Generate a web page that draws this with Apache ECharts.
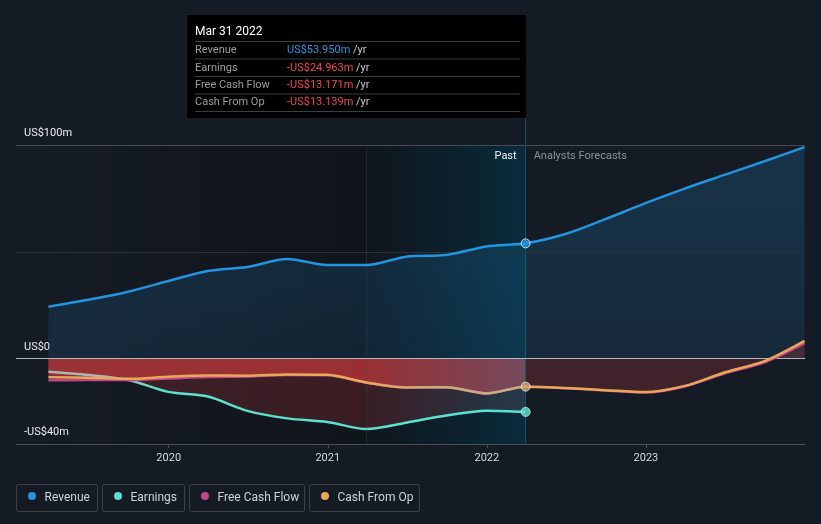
<!DOCTYPE html>
<html><head><meta charset="utf-8">
<script src="https://cdn.jsdelivr.net/npm/echarts@6/dist/echarts.min.js"></script>
<style>html,body{margin:0;padding:0;background:#151b24;}#c{width:821px;height:524px;}</style>
</head><body><div id="c"></div>
<script>
// ---- data ----
const pastDates = ['2019-03-31','2019-06-30','2019-09-30','2019-12-31','2020-03-31','2020-06-30','2020-09-30','2020-12-31','2021-03-31','2021-06-30','2021-09-30','2021-12-31','2022-03-31'];
const revenuePast  = [24.3, 27.5, 31.3, 36.3, 41.0, 42.9, 46.6, 43.8, 43.8, 47.7, 48.5, 52.5, 53.95];
const earningsPast = [-6.2, -7.7, -10.0, -15.6, -17.8, -24.5, -28.0, -29.7, -33.0, -30.0, -26.7, -24.4, -24.963];
const fcfPast      = [-10.2, -10.0, -10.0, -9.3, -8.6, -8.4, -7.7, -7.8, -11.3, -13.6, -13.5, -16.4, -13.171];
const cfoPast      = [-8.8, -9.0, -9.5, -8.5, -7.9, -8.0, -7.4, -7.6, -11.2, -13.5, -13.4, -16.3, -13.139];
const forecastDates = ['2022-03-31','2022-06-30','2022-09-30','2022-12-31','2023-03-31','2023-06-30','2023-09-30','2023-12-31'];
const revenueForecast = [53.95, 58.3, 65.3, 72.8, 79.6, 86.0, 92.4, 99.0];
const fcfForecast     = [-13.171, -13.9, -14.9, -15.9, -13.1, -7.0, -1.8, 7.2];
const cfoForecast     = [-13.139, -13.8, -14.8, -15.7, -12.8, -6.5, -1.2, 8.3];
const xTickLabels = [2020, 2021, 2022, 2023];
const yTickValues = [-40, 0, 100];
const gridValues = [100, 50];
const highlightRange = ['2021-03-31', '2022-03-31'];
const legendNames = ['Revenue', 'Earnings', 'Free Cash Flow', 'Cash From Op'];
const tooltipTitle = 'Mar 31 2022';
const tooltipRows = [
  ['Revenue', 'US$53.950m'],
  ['Earnings', '-US$24.963m'],
  ['Free Cash Flow', '-US$13.171m'],
  ['Cash From Op', '-US$13.139m']
];

// ---- helpers ----
function toYear(s) {
  const [y, m, d] = s.split('-').map(Number);
  const start = Date.UTC(y, 0, 1), end = Date.UTC(y + 1, 0, 1);
  return y + (Date.UTC(y, m - 1, d) - start) / (end - start);
}
function pairs(dates, vals) { return dates.map((d, i) => [toYear(d), vals[i]]); }
const C = {rev: '#2394df', earn: '#5ce1d0', fcf: '#c5458a', cfo: '#e8a857'};
const G = echarts.graphic.LinearGradient;
const FONT = 'Roboto, "Noto Sans", sans-serif';
const SM = 0.3;

const chart = echarts.init(document.getElementById('c'), null, {renderer: 'canvas'});
const revData = pairs(pastDates, revenuePast).concat(pairs(forecastDates, revenueForecast).slice(1));
const cfoData = pairs(pastDates, cfoPast).concat(pairs(forecastDates, cfoForecast).slice(1));
const fcfData = pairs(pastDates, fcfPast).concat(pairs(forecastDates, fcfForecast).slice(1));
const earnData = pairs(pastDates, earningsPast);
const xMin = 2019.04, xMax = 2024.0;
const hx0 = toYear(highlightRange[0]), hx1 = toYear(highlightRange[1]);
const p0 = toYear(pastDates[0]);
const hlFrac = (hx0 - p0) / (hx1 - p0);   // where the highlight begins inside the past series

function areaSeries(name, data, color, z) {
  return {name: name + '-area', type: 'line', data, smooth: SM, showSymbol: false, silent: true, z,
    lineStyle: {width: 0, opacity: 0}, areaStyle: {color, opacity: 1}};
}
function lineSeries(name, data, color, z) {
  return {name, type: 'line', data, smooth: SM, showSymbol: false, z, lineStyle: {width: 2.5, color}};
}

chart.setOption({
  backgroundColor: '#151b24',
  animation: false,
  textStyle: {fontFamily: FONT},
  grid: {left: 16, right: 16, top: 145, bottom: 80},
  xAxis: {
    type: 'value', min: xMin, max: xMax,
    axisLine: {onZero: false, lineStyle: {color: '#4b5059'}},
    axisTick: {customValues: xTickLabels, length: 4, lineStyle: {color: '#4b5059'}},
    axisLabel: {customValues: xTickLabels, formatter: v => String(Math.round(v)), color: '#d6d8db', fontSize: 11, margin: 9},
    splitLine: {show: false}
  },
  yAxis: {
    type: 'value', min: -40, max: 100,
    axisLine: {show: false}, axisTick: {show: false}, splitLine: {show: false},
    axisLabel: {
      inside: true, customValues: yTickValues, showMinLabel: true, showMaxLabel: true,
      formatter: v => v === 0 ? 'US$0' : (v < 0 ? '-' : '') + 'US$' + Math.abs(v) + 'm',
      color: '#eceef0', fontSize: 11, verticalAlign: 'bottom', margin: 8, padding: [0, 0, 6, 0]
    }
  },
  series: [
    {
      name: 'bg', type: 'line', data: [], z: 1, silent: true,
      markArea: {
        silent: true,
        data: [
          [{xAxis: xMin, itemStyle: {color: new G(1, 0, 0, 0, [{offset: 0, color: 'rgba(0,0,0,0.25)'}, {offset: 1, color: 'rgba(0,0,0,0)'}])}}, {xAxis: hx0}],
          [{xAxis: hx0, itemStyle: {color: 'rgba(0,0,0,0.22)'}}, {xAxis: hx1}]
        ]
      },
      markLine: {
        silent: true, symbol: 'none', label: {show: false},
        data: [
          {yAxis: gridValues[0], lineStyle: {color: '#474c55', width: 1, type: 'solid'}},
          {yAxis: gridValues[1], lineStyle: {color: '#2b3039', width: 1, type: 'solid'}}
        ]
      }
    },
    // area fills
    areaSeries('Revenue', revData, new G(0, 0, 0, 1, [{offset: 0, color: 'rgba(35,148,223,0.2)'}, {offset: 1, color: 'rgba(35,148,223,0.12)'}]), 2),
    areaSeries('Earnings', earnData, new G(0, 0, 1, 0, [{offset: 0, color: 'rgba(190,55,58,0.24)'}, {offset: hlFrac, color: 'rgba(190,55,58,0.24)'}, {offset: 1, color: 'rgba(140,110,130,0.2)'}]), 2),
    areaSeries('Cash From Op past', pairs(pastDates, cfoPast), new G(0, 0, 1, 0, [{offset: 0, color: 'rgba(190,55,58,0.72)'}, {offset: hlFrac, color: 'rgba(190,55,58,0.72)'}, {offset: 1, color: 'rgba(165,85,105,0.62)'}]), 2),
    areaSeries('Cash From Op forecast', pairs(forecastDates, cfoForecast), 'rgba(190,55,58,0.25)', 2),
    // highlight overlay (above fills, below lines)
    {
      name: 'hl', type: 'line', data: [], z: 3, silent: true,
      markArea: {
        silent: true,
        data: [[{xAxis: hx0, itemStyle: {color: new G(0, 0, 1, 0, [{offset: 0, color: 'rgba(0,60,85,0.03)'}, {offset: 1, color: 'rgba(0,72,98,0.45)'}])}}, {xAxis: hx1}]]
      },
      markLine: {
        silent: true, symbol: 'none', label: {show: false},
        data: [
          {xAxis: hx0, lineStyle: {color: 'rgba(35,75,100,0.4)', width: 1, type: 'solid'}},
          {xAxis: hx1, lineStyle: {color: '#1e5066', width: 1, type: 'solid'}},
          {yAxis: 0, lineStyle: {color: '#b4b7bb', width: 1.2, type: 'solid'}}
        ]
      }
    },
    // lines
    {
      name: 'Earnings', type: 'line', data: earnData, smooth: SM, showSymbol: false, z: 4,
      lineStyle: {width: 2.5, color: new G(0, 0, 1, 0, [{offset: 0, color: '#aeb3b4'}, {offset: 0.14, color: '#aab9b7'}, {offset: 0.24, color: C.earn}, {offset: 1, color: C.earn}])}
    },
    lineSeries('Free Cash Flow', fcfData, C.fcf, 5),
    {
      name: 'Cash From Op', type: 'line', data: cfoData, smooth: SM, showSymbol: false, z: 6,
      lineStyle: {width: 2.5, color: new G(0, 0, 1, 0, [{offset: 0, color: C.cfo}, {offset: 0.42, color: C.cfo}, {offset: 0.5, color: '#c8ad7c'}, {offset: 0.63, color: '#c8ad7c'}, {offset: 0.645, color: C.cfo}, {offset: 1, color: C.cfo}])}
    },
    lineSeries('Revenue', revData, C.rev, 7),
    {
      name: 'dots', type: 'scatter', z: 8, symbolSize: 9,
      data: [
        {value: [hx1, revenuePast[revenuePast.length - 1]], itemStyle: {color: C.rev, borderColor: '#e8f2fb', borderWidth: 1}},
        {value: [hx1, cfoPast[cfoPast.length - 1]], itemStyle: {color: '#d2a868', borderColor: '#eee', borderWidth: 1}},
        {value: [hx1, earningsPast[earningsPast.length - 1]], itemStyle: {color: C.earn, borderColor: '#c9f5ef', borderWidth: 1}}
      ]
    }
  ]
});

// ---- annotations ----
const lineX = chart.convertToPixel({xAxisIndex: 0}, hx1);
const topY = chart.convertToPixel({yAxisIndex: 0}, 100);
const graphics = [];
graphics.push({type: 'line', shape: {x1: lineX, y1: 118, x2: lineX, y2: topY}, style: {stroke: '#1e5066', lineWidth: 1}, z: 10});
graphics.push({type: 'text', x: lineX - 9, y: topY + 11.5, style: {text: 'Past', fill: '#f0f0f0', font: '11px ' + FONT, textAlign: 'right', textVerticalAlign: 'middle'}, z: 10});
graphics.push({type: 'text', x: lineX + 8, y: topY + 11.5, style: {text: 'Analysts Forecasts', fill: '#8b9099', font: '11px ' + FONT, textAlign: 'left', textVerticalAlign: 'middle'}, z: 10});

// tooltip box
const tipL = 187, tipT = 15, tipR = lineX + 0.5;
graphics.push({type: 'rect', shape: {x: tipL, y: tipT, width: tipR - tipL, height: 103}, style: {fill: '#000000'}, z: 20});
graphics.push({type: 'text', x: 195, y: 32, style: {text: tooltipTitle, fill: '#ffffff', font: '12px ' + FONT, textVerticalAlign: 'middle'}, z: 21});
const sepY = [41, 58.5, 76, 93.5, 111];
sepY.forEach(y => graphics.push({type: 'line', shape: {x1: 195, y1: y + 0.5, x2: 520, y2: y + 0.5}, style: {stroke: '#3d3d3d', lineWidth: 1}, z: 21}));
const rowY = [50.5, 68, 85.5, 102.5];
const valColors = [C.rev, '#f0474b', '#f0474b', '#f0474b'];
tooltipRows.forEach((r, i) => {
  graphics.push({type: 'text', x: 195, y: rowY[i], style: {text: r[0], fill: '#9c9c9c', font: '11px ' + FONT, textVerticalAlign: 'middle'}, z: 21});
  graphics.push({type: 'text', x: 287, y: rowY[i], style: {
    text: '{v|' + r[1] + '} {u|/yr}', textVerticalAlign: 'middle', font: '11px ' + FONT,
    rich: {v: {fill: valColors[i], font: '11px ' + FONT}, u: {fill: '#c8c8c8', font: '11px ' + FONT}}
  }, z: 21});
});

// legend
const legBoxes = [[16.5, 81], [102.5, 82], [189.5, 115], [309.5, 110]];
const legColors = [C.rev, C.earn, C.fcf, C.cfo];
legendNames.forEach((n, i) => {
  const [bx, bw] = legBoxes[i];
  graphics.push({type: 'rect', shape: {x: bx, y: 484.5, width: bw, height: 27, r: 2}, style: {fill: 'none', stroke: '#3c414a', lineWidth: 1}, z: 10});
  graphics.push({type: 'circle', shape: {cx: bx + 15.5, cy: 496, r: 4}, style: {fill: legColors[i]}, z: 10});
  graphics.push({type: 'text', x: bx + 28, y: 497.5, style: {text: n, fill: '#cfd2d6', font: '12px ' + FONT, textVerticalAlign: 'middle'}, z: 10});
});
chart.setOption({graphic: graphics});
</script></body></html>
